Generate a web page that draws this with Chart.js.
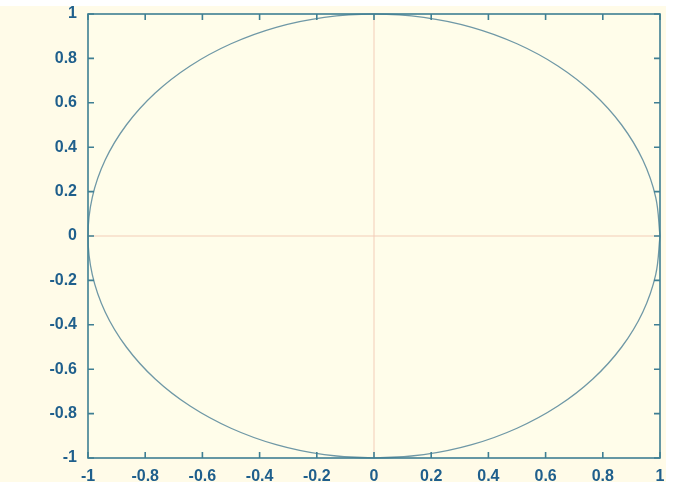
<!DOCTYPE html>
<html>
<head>
<meta charset="utf-8">
<script src="https://cdn.jsdelivr.net/npm/chart.js@4/dist/chart.umd.min.js"></script>
<style>
  html, body { margin: 0; padding: 0; background: #ffffff; }
  #wrap { width: 677px; height: 482px; }
</style>
</head>
<body>
<div id="wrap"><canvas id="c" width="677" height="482"></canvas></div>
<script>
// Unit circle sampled every 10 degrees, starting at (1, 0) and going counter-clockwise
const circleX = [1, 0.985, 0.940, 0.866, 0.766, 0.643, 0.500, 0.342, 0.174, 0,
  -0.174, -0.342, -0.500, -0.643, -0.766, -0.866, -0.940, -0.985, -1,
  -0.985, -0.940, -0.866, -0.766, -0.643, -0.500, -0.342, -0.174, 0,
  0.174, 0.342, 0.500, 0.643, 0.766, 0.866, 0.940, 0.985, 1];
const circleY = [0, 0.174, 0.342, 0.500, 0.643, 0.766, 0.866, 0.940, 0.985, 1,
  0.985, 0.940, 0.866, 0.766, 0.643, 0.500, 0.342, 0.174, 0,
  -0.174, -0.342, -0.500, -0.643, -0.766, -0.866, -0.940, -0.985, -1,
  -0.985, -0.940, -0.866, -0.766, -0.643, -0.500, -0.342, -0.174, 0];

// Shared tick positions and their labels for both axes
const tickValues = [-1, -0.8, -0.6, -0.4, -0.2, 0, 0.2, 0.4, 0.6, 0.8, 1];
const tickLabels = ['-1', '-0.8', '-0.6', '-0.4', '-0.2', '0', '0.2', '0.4', '0.6', '0.8', '1'];

const points = circleX.map((x, i) => ({ x: x, y: circleY[i] }));

const TEXT = '#1f5f8c';
const FRAME = '#3f7f93';
const CURVE = '#6f98a6';
const ZERO = 'rgba(242, 200, 180, 0.45)';

function labelFor(v) {
  const i = tickValues.findIndex(t => Math.abs(t - v) < 1e-9);
  return i >= 0 ? tickLabels[i] : '';
}

// Paper background: cream sheet with a thin white margin at top and right
const paper = {
  id: 'paper',
  beforeDraw(chart) {
    const ctx = chart.ctx;
    ctx.save();
    ctx.fillStyle = '#ffffff';
    ctx.fillRect(0, 0, chart.width, chart.height);
    ctx.fillStyle = '#fffbe8';
    ctx.fillRect(0, 6, 666, chart.height - 6);
    const a = chart.chartArea;
    ctx.fillStyle = '#fffdea';
    ctx.fillRect(a.left, a.top, a.right - a.left, a.bottom - a.top);
    ctx.restore();
  }
};

// Closed frame with inward tick marks on all four sides
const frame = {
  id: 'frame',
  afterDraw(chart) {
    const ctx = chart.ctx;
    const a = chart.chartArea;
    const xs = chart.scales.x, ys = chart.scales.y;
    const len = 6;
    ctx.save();
    ctx.strokeStyle = FRAME;
    ctx.lineWidth = 1.6;
    ctx.strokeRect(a.left, a.top, a.right - a.left, a.bottom - a.top);
    ctx.beginPath();
    tickValues.forEach(v => {
      const px = xs.getPixelForValue(v);
      ctx.moveTo(px, a.bottom); ctx.lineTo(px, a.bottom - len);
      ctx.moveTo(px, a.top); ctx.lineTo(px, a.top + len);
      const py = ys.getPixelForValue(v);
      ctx.moveTo(a.left, py); ctx.lineTo(a.left + len, py);
      ctx.moveTo(a.right, py); ctx.lineTo(a.right - len, py);
    });
    ctx.stroke();
    ctx.restore();
  }
};

const zeroGrid = {
  drawOnChartArea: true,
  drawTicks: false,
  tickLength: 0,
  lineWidth: 2,
  color: c => (c.tick && Math.abs(c.tick.value) < 1e-9) ? ZERO : 'rgba(0,0,0,0)'
};

const tickFont = { family: '"Liberation Sans", Arial, sans-serif', size: 16, weight: 'bold' };

new Chart(document.getElementById('c'), {
  type: 'scatter',
  data: {
    datasets: [{
      data: points,
      showLine: true,
      borderColor: CURVE,
      borderWidth: 1.3,
      pointRadius: 0,
      tension: 0.38,
      fill: false,
      clip: 4
    }]
  },
  options: {
    responsive: false,
    animation: false,
    devicePixelRatio: 1,
    layout: { padding: { top: 14, right: 17, left: 0, bottom: 0 } },
    plugins: { legend: { display: false }, tooltip: { enabled: false } },
    scales: {
      x: {
        type: 'linear', min: -1, max: 1,
        afterBuildTicks: s => { s.ticks = tickValues.map(v => ({ value: v })); },
        afterFit: s => { s.height = 24; s.paddingLeft = 0; s.paddingRight = 0; },
        border: { display: false },
        grid: zeroGrid,
        ticks: {
          color: TEXT, font: tickFont, padding: 9, maxRotation: 0, autoSkip: false,
          callback: v => labelFor(v)
        }
      },
      y: {
        type: 'linear', min: -1, max: 1,
        afterBuildTicks: s => { s.ticks = tickValues.map(v => ({ value: v })); },
        afterFit: s => { s.width = 88; s.paddingTop = 0; s.paddingBottom = 0; },
        border: { display: false },
        grid: zeroGrid,
        ticks: {
          color: TEXT, font: tickFont, padding: 11, autoSkip: false,
          callback: v => labelFor(v)
        }
      }
    }
  },
  plugins: [paper, frame]
});
</script>
</body>
</html>
